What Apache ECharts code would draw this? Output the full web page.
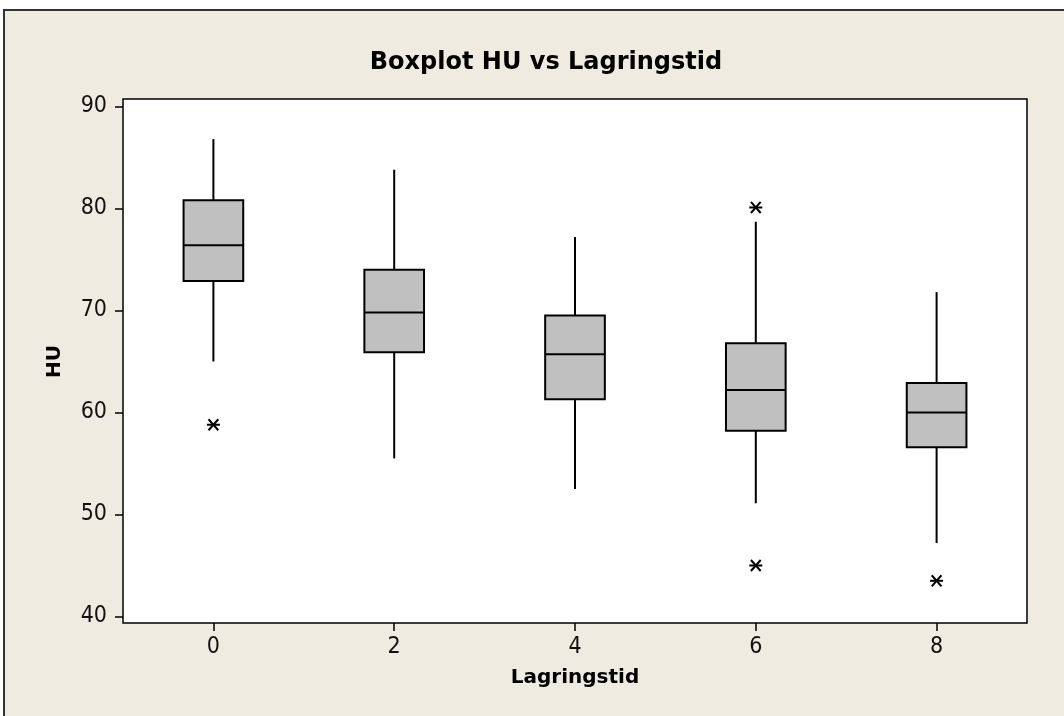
<!DOCTYPE html>
<html>
<head>
<meta charset="utf-8">
<script src="https://cdn.jsdelivr.net/npm/echarts@6/dist/echarts.min.js"></script>
<style>
html,body{margin:0;padding:0;background:#ffffff;}
#c{width:1064px;height:716px;}
</style>
</head>
<body>
<div id="c"></div>
<script>
const categories = ['0', '2', '4', '6', '8'];
const lowWhisker = [65.0, 55.5, 52.5, 51.1, 47.2];
const q1 = [72.9, 65.9, 61.3, 58.2, 56.6];
const median = [76.4, 69.8, 65.7, 62.2, 60.0];
const q3 = [80.8, 74.0, 69.5, 66.8, 62.9];
const highWhisker = [86.8, 83.8, 77.2, 78.7, 71.8];
const outliers = [['0', 58.8], ['6', 80.1], ['6', 45.0], ['8', 43.5]];
const yTicks = [40, 50, 60, 70, 80, 90];

const boxData = categories.map((c, i) => [i, lowWhisker[i], q1[i], median[i], q3[i], highWhisker[i]]);
const outlierData = outliers.map(o => [categories.indexOf(o[0]), o[1]]);

const FONT = 'DejaVu Sans Condensed, DejaVu Sans, sans-serif';
const FONTB = 'DejaVu Sans, sans-serif';

const chart = echarts.init(document.getElementById('c'));
chart.setOption({
  backgroundColor: '#ffffff',
  animation: false,
  title: {
    text: 'Boxplot HU vs Lagringstid',
    left: 541, top: 46, textAlign: 'center',
    textStyle: {fontFamily: FONTB, fontWeight: 'bold', fontSize: 24, color: '#000'}
  },
  graphic: [
    {type: 'rect', z: -10, shape: {x: 4, y: 10, width: 1100, height: 800},
     style: {fill: '#efebe1', stroke: '#333333', lineWidth: 2}},
    {type: 'rect', z: -5, shape: {x: 123, y: 99, width: 904, height: 524},
     style: {fill: '#ffffff', stroke: '#000000', lineWidth: 1.5}}
  ],
  grid: {left: 123, right: 37, top: 106.5, bottom: 99.5},
  xAxis: {
    type: 'category', data: categories, boundaryGap: true, offset: 6.5,
    axisLine: {show: false},
    axisTick: {show: true, alignWithLabel: true, length: 8, lineStyle: {color: '#000', width: 1.5}},
    axisLabel: {margin: 13, fontFamily: FONT, fontSize: 23, color: '#111'},
    splitLine: {show: false},
    name: 'Lagringstid', nameLocation: 'middle', nameGap: 45,
    nameTextStyle: {fontFamily: FONTB, fontWeight: 'bold', fontSize: 20, color: '#000'}
  },
  yAxis: {
    type: 'value', min: yTicks[0], max: yTicks[yTicks.length - 1], interval: 10,
    axisLine: {show: false},
    axisTick: {show: true, length: 8, lineStyle: {color: '#000', width: 1.5}},
    axisLabel: {margin: 16, fontFamily: FONT, fontSize: 23, color: '#111'},
    splitLine: {show: false},
    name: 'HU', nameLocation: 'middle', nameGap: 58, nameRotate: 90,
    nameTextStyle: {fontFamily: FONTB, fontWeight: 'bold', fontSize: 20, color: '#000'}
  },
  series: [
    {
      type: 'custom', z: 3,
      data: boxData,
      renderItem: function (params, api) {
        const idx = api.value(0);
        const pLow = api.coord([idx, api.value(1)]);
        const pQ1 = api.coord([idx, api.value(2)]);
        const pMed = api.coord([idx, api.value(3)]);
        const pQ3 = api.coord([idx, api.value(4)]);
        const pHigh = api.coord([idx, api.value(5)]);
        const w = api.size([1, 0])[0] * 0.33;
        const x = pMed[0];
        const ls = {stroke: '#000', lineWidth: 2};
        return {
          type: 'group',
          children: [
            {type: 'line', shape: {x1: x, y1: pHigh[1], x2: x, y2: pQ3[1]}, style: ls},
            {type: 'line', shape: {x1: x, y1: pQ1[1], x2: x, y2: pLow[1]}, style: ls},
            {type: 'rect', shape: {x: x - w / 2, y: pQ3[1], width: w, height: pQ1[1] - pQ3[1]},
             style: {fill: '#c0c0c0', stroke: '#000', lineWidth: 2}},
            {type: 'line', shape: {x1: x - w / 2, y1: pMed[1], x2: x + w / 2, y2: pMed[1]}, style: ls}
          ]
        };
      }
    },
    {
      type: 'custom', z: 4,
      data: outlierData,
      renderItem: function (params, api) {
        const p = api.coord([api.value(0), api.value(1)]);
        const r = 6.5;
        const ls = {stroke: '#000', lineWidth: 2};
        return {
          type: 'group',
          children: [
            {type: 'line', shape: {x1: p[0] - r, y1: p[1], x2: p[0] + r, y2: p[1]}, style: ls},
            {type: 'line', shape: {x1: p[0] - r * 0.75, y1: p[1] - r * 0.85, x2: p[0] + r * 0.75, y2: p[1] + r * 0.85}, style: ls},
            {type: 'line', shape: {x1: p[0] - r * 0.75, y1: p[1] + r * 0.85, x2: p[0] + r * 0.75, y2: p[1] - r * 0.85}, style: ls}
          ]
        };
      }
    }
  ]
});
</script>
</body>
</html>
